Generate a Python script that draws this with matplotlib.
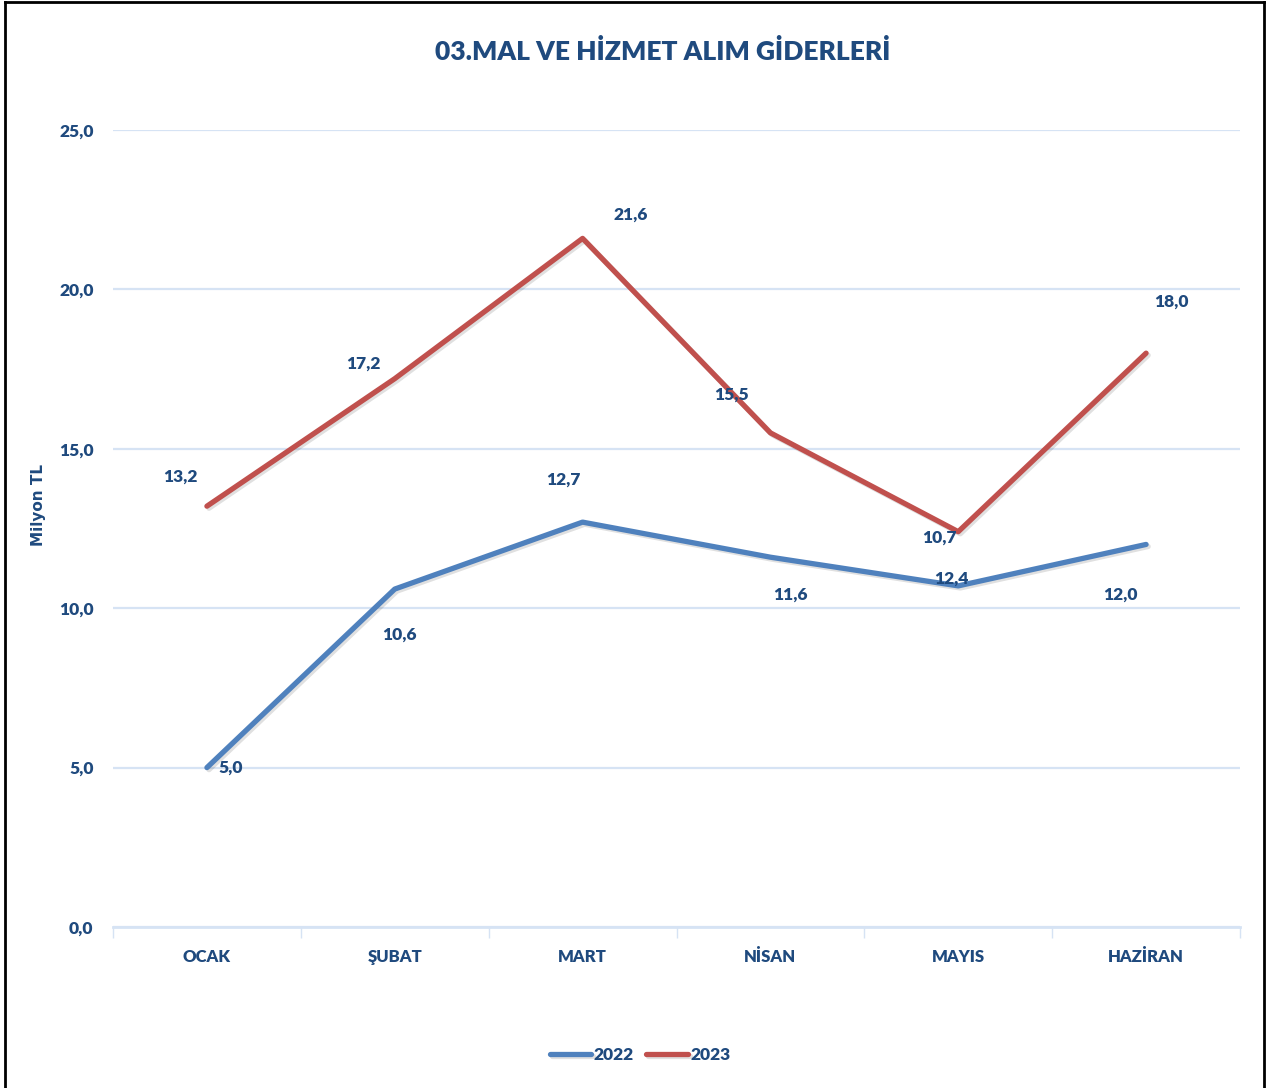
import matplotlib.pyplot as plt
import matplotlib.patheffects as pe
from matplotlib.lines import Line2D
from matplotlib.font_manager import fontManager

# data
months = ["OCAK", "ŞUBAT", "MART", "NİSAN", "MAYIS", "HAZİRAN"]
y2022 = [5.0, 10.6, 12.7, 11.6, 10.7, 12.0]
y2023 = [13.2, 17.2, 21.6, 15.5, 12.4, 18.0]
# labels as printed in the picture (May labels are swapped there)
lab2022 = ["5,0", "10,6", "12,7", "11,6", "12,4", "12,0"]
lab2023 = ["13,2", "17,2", "21,6", "15,5", "10,7", "18,0"]
yticks = [0, 5, 10, 15, 20, 25]

# label offsets in pixels (dx, dy up)
off2022 = [(24, 0), (5, -46), (-19, 42), (20, -37), (-7, 7), (-26, -50)]
off2023 = [(-27, 29), (-31, 15), (48, 24), (-39, 38), (-19, -6), (25, 51)]

names = {f.name for f in fontManager.ttflist}
main_font = "Liberation Sans Narrow" if "Liberation Sans Narrow" in names else "Lato"
plt.rcParams["font.family"] = [main_font, "DejaVu Sans"]

TXT = "#1F4A7E"
GRID = "#D6E3F4"
BLUE = "#4F81BD"
RED = "#C0504D"
FS = 12.5
WT = "heavy"

fig = plt.figure(figsize=(12.7, 10.88), dpi=100)
ax = fig.add_axes([113 / 1270, 1 - 927 / 1088, 1127 / 1270, 797 / 1088])

x = list(range(len(months)))
shadow = [pe.SimpleLineShadow(offset=(1.5, -1.5), alpha=0.12, shadow_color="black"), pe.Normal()]
ax.plot(x, y2022, color=BLUE, lw=3.8, solid_capstyle="round", path_effects=shadow, label="2022", zorder=3)
ax.plot(x, y2023, color=RED, lw=3.8, solid_capstyle="round", path_effects=shadow, label="2023", zorder=3)

for xi, v, t, (dx, dy) in zip(x, y2022, lab2022, off2022):
    ax.annotate(t, (xi, v), xytext=(dx, dy), textcoords="offset pixels", ha="center", va="center",
                fontsize=FS, fontweight=WT, color=TXT, zorder=4)
for xi, v, t, (dx, dy) in zip(x, y2023, lab2023, off2023):
    ax.annotate(t, (xi, v), xytext=(dx, dy), textcoords="offset pixels", ha="center", va="center",
                fontsize=FS, fontweight=WT, color=TXT, zorder=4)

ax.set_xlim(-0.5, len(months) - 0.5)
ax.set_ylim(0, 25)
ax.set_yticks(yticks)
ax.set_yticklabels([f"{v:.1f}".replace(".", ",") for v in yticks])
ax.set_xticks(x)
ax.set_xticklabels(months)
ax.set_xticks([i - 0.5 for i in range(len(months) + 1)], minor=True)
ax.tick_params(axis="x", which="major", length=0, pad=16)
ax.tick_params(axis="x", which="minor", length=8, width=1, color=GRID)
ax.tick_params(axis="y", length=0, pad=14)
for lbl in ax.get_xticklabels() + ax.get_yticklabels():
    lbl.set_fontsize(FS)
    lbl.set_fontweight(WT)
    lbl.set_color(TXT)
for lbl in ax.get_xticklabels():
    lbl.set_fontsize(12)

ax.grid(axis="y", color=GRID, lw=1.6)
ax.set_axisbelow(True)
for s in ["top", "right", "left"]:
    ax.spines[s].set_visible(False)
ax.spines["bottom"].set_color(GRID)
ax.spines["bottom"].set_linewidth(2)

fig.text(663 / 1270, 1 - 52 / 1088, "03.MAL VE HİZMET ALIM GİDERLERİ", ha="center", va="center",
         fontsize=19, fontweight=WT, color=TXT)
fig.text(38 / 1270, 1 - 505 / 1088, "Milyon TL", rotation=90, ha="center", va="center",
         fontsize=11, fontweight="bold", color=TXT, family=["DejaVu Sans"])

leg = fig.legend(loc="center", bbox_to_anchor=(640 / 1270, 1 - 1055 / 1088), ncol=2, frameon=False,
                 handlelength=2.4, handletextpad=0.15, columnspacing=0.7,
                 prop={"size": FS, "weight": WT})
for t in leg.get_texts():
    t.set_color(TXT)

# frame of the screenshot
for xs, ys in [([5 / 1270, 5 / 1270], [0, 1 - 2 / 1088]),
               ([5 / 1270, 1264 / 1270], [1 - 2 / 1088, 1 - 2 / 1088]),
               ([1264 / 1270, 1264 / 1270], [0, 1 - 2 / 1088])]:
    fig.add_artist(Line2D(xs, ys, transform=fig.transFigure, color="black", lw=2))

fig.savefig("out.png", dpi=100, facecolor="white")
